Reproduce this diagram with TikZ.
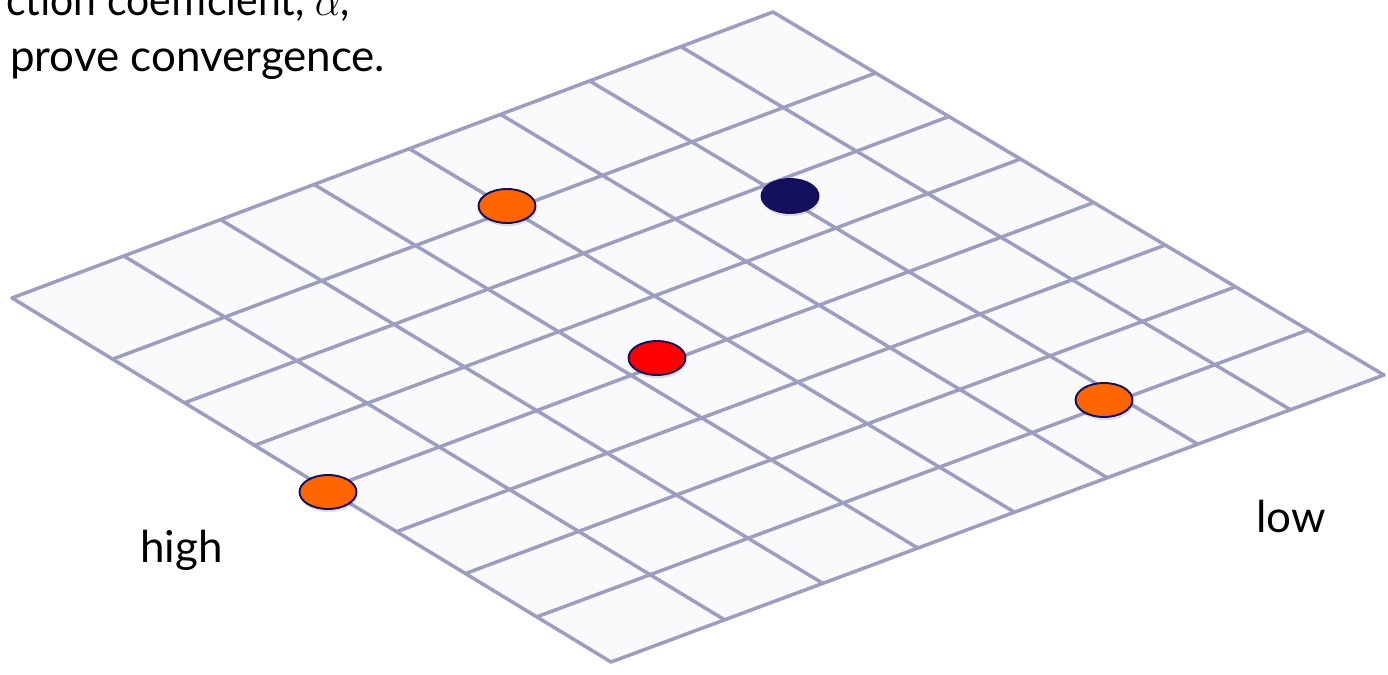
\documentclass[tikz,border=0pt]{standalone}
\usepackage{fontspec}
\setmainfont{Lato}
\usetikzlibrary{calc,shapes.geometric,shadows}
\definecolor{rejilla}{RGB}{156,158,192}
\definecolor{celda}{RGB}{250,250,253}
\definecolor{naranja}{RGB}{255,102,0}
\definecolor{rojo}{RGB}{255,0,0}
\definecolor{marino}{RGB}{20,16,94}

% malla: fracciones de columna (L->T) y de fila (L->B)
\newcommand{\malla}{%
  \fill[celda] (L) -- (T) -- (R) -- (B) -- cycle;
  \foreach \f in {0,0.147,0.274,0.397,0.522,0.642,0.759,0.879,1}
    \draw[linea] ($(L)!\f!(T)$) -- ($(B)!\f!(R)$);
  \foreach \g in {0,0.168,0.288,0.405,0.525,0.642,0.757,0.876,1}
    \draw[linea] ($(L)!\g!(B)$) -- ($(T)!\g!(R)$);}

\tikzset{
  linea/.style={rejilla, line width=2pt, line cap=round, line join=round},
  punto/.style={ellipse, draw=marino, line width=1.1pt, inner sep=0pt,
    minimum width=1.14cm, minimum height=0.68cm,
    drop shadow={shadow xshift=0.6pt, shadow yshift=-1.8pt, opacity=0.25}}}

\begin{document}
\begin{tikzpicture}[x=0.02cm, y=-0.02cm, font=\fontsize{25}{30}\selectfont]
  \useasboundingbox (0,0) rectangle (1388,675);
  \coordinate (L) at (12,298);
  \coordinate (T) at (773,12);
  \coordinate (R) at (1384,375);
  \coordinate (B) at (611,662);
  \malla
  \foreach \n/\px/\py/\col in {o1/328/492/naranja, o2/507/206/naranja, o3/1104/400/naranja,
                               r/657/358/rojo, n/790/196/marino}
    {\node[punto, fill=\col] (\n) at (\px,\py) {};}
  \node[anchor=base east, inner sep=0pt] (linea1) at (350,16)
    {\scalebox{0.93}[1]{ction coefficient, $\alpha$,}};
  \node[anchor=base west] (linea2) at (4,72) {prove convergence.};
  \node[anchor=base west] (alto) at (134,562) {high};
  \node[anchor=base west] (bajo) at (1250,532) {low};
\end{tikzpicture}
\end{document}
